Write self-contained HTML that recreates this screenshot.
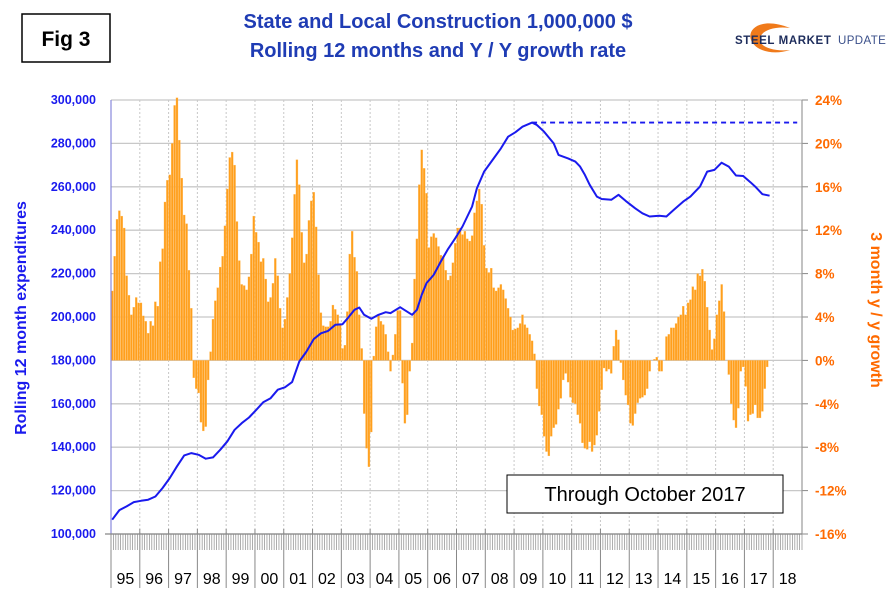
<!DOCTYPE html>
<html><head><meta charset="utf-8"><style>
body{margin:0;background:#fff;}
svg{display:block;font-family:"Liberation Sans",Arial,sans-serif;}
</style></head><body>
<svg id="chart" width="894" height="596" viewBox="0 0 894 596">
<rect x="0" y="0" width="894" height="596" fill="#fff"/>
<g>
<rect x="22" y="14" width="88" height="48" fill="#fff" stroke="#000" stroke-width="1.5"/>
<text x="66" y="46" text-anchor="middle" font-size="21" font-weight="bold" fill="#000">Fig 3</text>
</g>
<text x="438" y="28" text-anchor="middle" font-size="20" font-weight="bold" fill="#1f3cb4">State and Local Construction 1,000,000 $</text>
<text x="438" y="57" text-anchor="middle" font-size="20" font-weight="bold" fill="#1f3cb4">Rolling 12 months and Y / Y growth rate</text>
<g>
<path d="M790,28 C760,16 745,30 752,42 C758,52 775,55 790,50 C772,52 758,46 760,38 C762,30 775,26 790,28Z" fill="#f07a1a"/>
<text x="735" y="44" font-size="11.5" font-weight="bold" letter-spacing="0.6" fill="#1e2d5c">STEEL MARKET</text>
<text x="838" y="44" font-size="11.5" letter-spacing="0.4" fill="#3a4f8a">UPDATE</text>
</g>
<g id="grid"></g>
<g id="bars"></g>
<g id="lines"></g>
<g id="axes"></g>
<g>
<rect x="507" y="475" width="276" height="38" fill="#fff" stroke="#000" stroke-width="1"/>
<text x="645" y="501" text-anchor="middle" font-size="20" fill="#000">Through October 2017</text>
</g>
<text transform="translate(26,318) rotate(-90)" text-anchor="middle" font-size="16" font-weight="bold" fill="#1a1aee">Rolling 12 month expenditures</text>
<text transform="translate(871,310) rotate(90)" text-anchor="middle" font-size="16" font-weight="bold" fill="#ff6a00">3 month y / y growth</text>
</svg>
<script>
const years = ["95","96","97","98","99","00","01","02","03","04","05","06","07","08","09","10","11","12","13","14","15","16","17","18"];
const leftTicks = [100000,120000,140000,160000,180000,200000,220000,240000,260000,280000,300000];
const rightTicks = [-16,-12,-8,-4,0,4,8,12,16,20,24];
const growth = [6.4,9.6,13,13.8,13.3,12.2,7.8,6,4.2,4.9,
5.8,5.3,5.3,4.1,3.6,2.5,3.6,3.2,5.4,5,
9.1,10.3,14.6,16.6,17.1,20,23.5,24.2,20.3,16.8,
13.4,12.6,8.3,4.8,-1.6,-2.6,-3,-5.7,-6.5,-6.1,
-1.8,0.8,3.8,5.5,6.7,8.6,9.6,12.4,15.8,18.7,
19.2,18,12.8,9.2,7,6.9,6.5,7.7,9.8,13.3,
11.8,10.9,9.1,9.4,7.5,5.4,5.8,7.1,9.4,7.8,
4.8,3,3.8,5.8,8,11.3,15.3,18.5,16.2,11.8,
9,9.8,12.9,14.7,15.5,12.3,7.9,4.4,3.2,3.1,
3.1,3.6,5.1,4.7,4.2,3.3,1.1,1.4,4.5,
9.8,11.9,9.5,8.2,4.2,1.1,-4.9,-8.1,-9.8,-6.6,
0.4,3.1,4.2,3.6,3.3,2.4,0.8,-1,0.5,2.4,
4.6,4.6,-2.1,-5.8,-5,-1,1.6,7.5,11.2,16.2,
19.4,17.7,15.4,10.4,11.4,11.7,11.3,10.5,9.7,9.6,
8.3,7.4,7.8,9,10.8,12.2,12.2,11.6,11.9,11.2,
11,11.5,13.6,14.7,15.8,14.4,10.6,8.5,8.1,8.5,
6.7,6.4,6.7,7,6.5,5.7,4.8,4,2.8,2.9,
3,3.4,4.2,3.3,3,2.4,1.8,0.6,-2.6,-4.2,
-5,-7,-8.4,-8.8,-7,-6.2,-5.9,-4.5,-3.5,-1.8,
-1.2,-2,-3.4,-3.9,-4,-5,
-5.8,-7.6,-8.1,-8.2,-7.5,-8.4,-7.8,-6.9,-4.7,-2.7,
-0.7,-1,-0.8,-1.2,1.3,2.8,1.9,-0.2,-1.8,-3.2,
-4.1,-5.8,-6,-4.9,-3.9,-3.5,-3.4,-3.2,-2.6,-1,0,
0.1,0.3,-1,-1,0,2.2,2.4,3,3,3.4,4,
4.2,5,4.2,5.3,5.6,6.8,6.5,8,7.8,8.4,
7.3,4.9,2.8,1,2,4.2,5.5,7,4.5,0,-1.3,
-4,-5.5,-6.2,-4.4,-1,-0.6,-2.4,-5.6,-5,-4.9,
-4.1,-5.3,-5.3,-4.7,-2.6,-0.6];
const lineMonths = [0,3,6,9,12,15,18,21,24,27,30,33,36,39,42,45,48,51,54,57,60,63,66,69,72,75,78,81,84,87,90,93,96,98,101,103,105,108,111,114,116,120,125,127,129,131,134,137,140,143,146,150,152,155,159,162,165,168,171,175,177,180,184,186,190,193,195,197,199,202,204,208,211,214,218,221,224,228,231,234,238,241,245,248,251,254,257,260,263,266,268,271,274];
const lineValues = [106.6,111,112.7,114.7,115.3,115.8,117.3,121.2,125.8,131.2,136.2,137.3,136.5,134.7,135.3,138.8,142.7,148,151.1,153.7,157.2,160.8,162.6,166.5,167.6,170,179.5,184.1,189.8,192.5,193.6,196.4,196.7,199.2,203.3,204.4,201,199.2,201,202.2,201.8,204.5,201,203.3,210.2,215.6,219.4,225.6,231.4,236.3,241.7,250.9,259.3,267,273.1,277.7,283.1,285.1,287.7,289.6,288.5,285.4,280,274.7,273.1,271.6,269.3,265.5,260.9,255.5,254.4,254,256.3,253.5,250.1,247.8,246.3,246.7,246.3,249.3,253.2,255.5,260.1,267,267.8,271.1,269.3,265.2,265,262.1,260.1,256.6,255.9];
const peakValue = 289.6;
const peakMonth = 175;
const dashEndMonth = 286;

const NS = "http://www.w3.org/2000/svg";
const X0 = 111, X1 = 802, Y0 = 100, Y1 = 534;
const monthW = (X1 - X0) / (years.length * 12);
const xM = m => X0 + m * monthW;
const yL = v => Y1 - (v - 100000) / 200000 * (Y1 - Y0);
const yR = p => Y1 - (p + 16) / 40 * (Y1 - Y0);
function mk(tag, attrs, parent) {
  const e = document.createElementNS(NS, tag);
  for (const k in attrs) e.setAttribute(k, attrs[k]);
  parent.appendChild(e);
  return e;
}
const grid = document.getElementById("grid");
const axes = document.getElementById("axes");
const bars = document.getElementById("bars");
const lines = document.getElementById("lines");

leftTicks.forEach((t, i) => {
  const y = yL(t);
  const g = mk("line", {x1: X0, x2: X1, y1: y, y2: y, stroke: "#c8c8c8", "stroke-width": 1.3}, grid);
  
  
  const lt = mk("text", {x: 96, y: y + 4, "text-anchor": "end", "font-size": 12.5, "font-weight": "bold", fill: "#1a1aee"}, axes);
  lt.textContent = t.toLocaleString("en-US");
  
  
});
rightTicks.forEach(t => {
  const y = yR(t);
  const tk = mk("line", {x1: X1, x2: X1 + 6, y1: y, y2: y, stroke: "#888", "stroke-width": 1}, axes);
  
  
  const rt = mk("text", {x: 815, y: y + 5, "font-size": 13.5, "font-weight": "bold", fill: "#ff6a00"}, axes);
  rt.textContent = t + "%";
  
  
});
years.forEach((yr, i) => {
  const x = X0 + i * 12 * monthW;
  if (i > 0) {
    const v = mk("line", {x1: x, x2: x, y1: Y0, y2: Y1, stroke: "#c8c8c8", "stroke-width": 1, "stroke-dasharray": "2,2"}, grid);
    
    
  }
  const s = mk("line", {x1: x, x2: x, y1: 529, y2: 588, stroke: "#888", "stroke-width": 1}, axes);
  
  
  const t = mk("text", {x: x + 6 * monthW, y: 584, "text-anchor": "middle", "font-size": 16, fill: "#000"}, axes);
  t.textContent = yr;
  
  
});
for (let m = 0; m <= years.length * 12; m++) {
  const x = xM(m);
  const mt = mk("line", {x1: x, x2: x, y1: Y1, y2: 550, stroke: "#999", "stroke-width": 0.8}, axes);
  
  
}
const la = mk("line", {x1: X0, x2: X0, y1: Y0, y2: Y1, stroke: "#8888dd", "stroke-width": 1.2}, axes);


const ra = mk("line", {x1: X1, x2: X1, y1: Y0, y2: Y1, stroke: "#999", "stroke-width": 1.2}, axes);


const ba = mk("line", {x1: X0 - 6, x2: X1, y1: Y1, y2: Y1, stroke: "#888", "stroke-width": 1.2}, axes);



const y0 = yR(0);
growth.forEach((p, m) => {
  const y = yR(p);
  const b = mk("rect", {x: xM(m) + 0.2, y: Math.min(y, y0), width: monthW - 0.4, height: Math.abs(y - y0), fill: "#ff9f1c", stroke: "#ffbf66", "stroke-width": 0.3}, bars);
  
  
});
const pts = lineMonths.map((m, i) => xM(m + 0.5).toFixed(1) + "," + yL(lineValues[i] * 1000).toFixed(1)).join(" ");
const pl = mk("polyline", {points: pts, fill: "none", stroke: "#1a1aee", "stroke-width": 2, "stroke-linejoin": "round"}, lines);


const dl = mk("line", {x1: xM(peakMonth + 0.5), x2: xM(dashEndMonth), y1: yL(peakValue * 1000), y2: yL(peakValue * 1000), stroke: "#1a1aee", "stroke-width": 1.8, "stroke-dasharray": "5,4"}, lines);


</script>
</body></html>
